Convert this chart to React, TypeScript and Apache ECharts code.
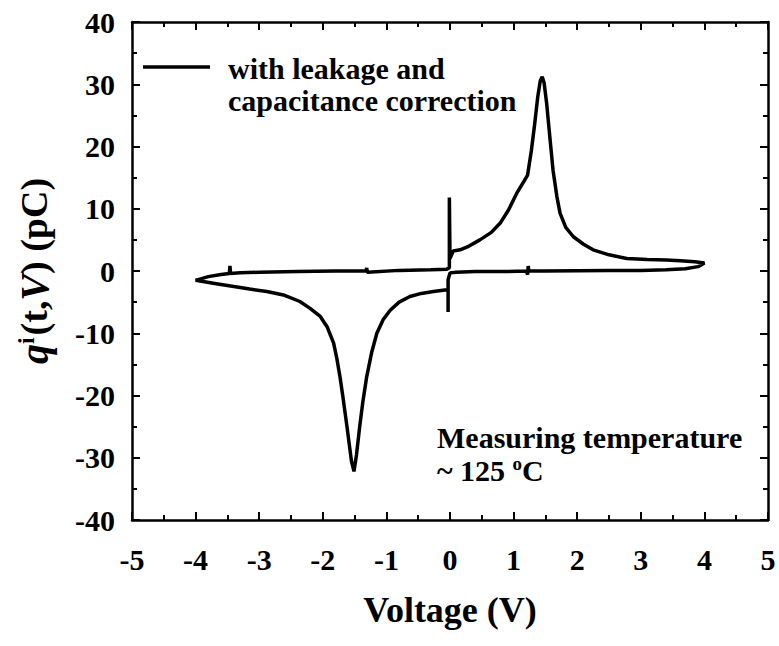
import React, { useEffect, useRef } from "react";
import * as echarts from "echarts";

// Segment A: 0 V -> +4 V (switching peak)
const vUp = [-0.01, -0.01, 0.0, 0.05, 0.16, 0.3, 0.47, 0.65, 0.79, 0.92, 1.05, 1.15, 1.22, 1.28, 1.33, 1.38, 1.42, 1.45, 1.48, 1.52, 1.57, 1.62, 1.68, 1.73, 1.82, 1.94, 2.1, 2.25, 2.5, 2.78, 3.1, 3.4, 3.62, 3.85, 4.0];
const qUp = [0.5, 11.8, 2.0, 3.2, 3.4, 4.0, 5.0, 6.2, 7.7, 9.8, 12.5, 14.2, 15.4, 19.4, 23.5, 28.0, 30.6, 31.2, 30.2, 26.9, 21.5, 16.2, 12.0, 9.3, 7.0, 5.5, 4.3, 3.4, 2.6, 2.0, 1.85, 1.75, 1.65, 1.5, 1.3];
// Segment B: +4 V -> 0 V (flat)
const vBackPos = [4.0, 3.9, 3.7, 3.4, 3.0, 2.5, 2.0, 1.5, 1.24, 1.23, 1.22, 1.2, 0.8, 0.4, 0.1, 0.0];
const qBackPos = [1.3, 0.7, 0.35, 0.2, 0.1, 0.1, 0.05, 0.0, 0.0, 0.8, -0.6, 0.0, -0.1, -0.1, -0.2, -0.3];
// Segment C: 0 V -> -4 V (switching peak)
const vDown = [0.0, -0.03, -0.03, -0.03, -0.08, -0.26, -0.45, -0.63, -0.8, -0.94, -1.05, -1.15, -1.23, -1.31, -1.37, -1.42, -1.47, -1.51, -1.55, -1.62, -1.68, -1.73, -1.78, -1.83, -1.93, -2.04, -2.2, -2.36, -2.6, -2.88, -3.15, -3.4, -3.7, -4.0];
const qDown = [-0.3, -1.4, -6.6, -3.0, -3.05, -3.3, -3.6, -4.1, -5.0, -6.3, -7.8, -10.0, -13.0, -17.0, -21.0, -25.0, -29.5, -32.2, -30.5, -25.0, -20.5, -17.0, -14.0, -11.6, -9.0, -7.3, -6.0, -4.9, -3.9, -3.3, -2.9, -2.5, -2.0, -1.5];
// Segment D: -4 V -> 0 V (flat)
const vBackNeg = [-4.0, -3.8, -3.6, -3.47, -3.46, -3.45, -3.3, -3.0, -2.4, -1.8, -1.32, -1.31, -1.3, -0.8, -0.3, -0.05, 0.0];
const qBackNeg = [-1.5, -0.9, -0.55, -0.4, 0.8, -0.4, -0.3, -0.2, -0.1, 0.0, 0.0, 0.5, -0.2, 0.1, 0.2, 0.3, 0.6];

const xTicks = [-5, -4, -3, -2, -1, 0, 1, 2, 3, 4, 5];
const yTicks = [-40, -30, -20, -10, 0, 10, 20, 30, 40];

const seriesName = "with leakage and capacitance correction";

const FONT = "'Liberation Serif', 'Times New Roman', serif";

function zip(v: number[], q: number[]) {
  return v.map((x, i) => [x, q[i]]);
}

export default function App() {
  const ref = useRef<HTMLDivElement>(null);
  useEffect(() => {
    if (!ref.current) return;
    const chart = echarts.init(ref.current, null, { renderer: "svg" });
    const data = [
      ...zip(vUp, qUp),
      ...zip(vBackPos, qBackPos),
      ...zip(vDown, qDown),
      ...zip(vBackNeg, qBackNeg),
    ];
    const axisLine = { show: true, onZero: false, lineStyle: { color: "#000", width: 2.5 } };
    const tick = { show: true, inside: true, length: 8, lineStyle: { color: "#000", width: 2 } };
    const minor = { show: true, splitNumber: 2, length: 5, lineStyle: { color: "#000", width: 2 } };
    const labelStyle = { color: "#000", fontFamily: FONT, fontWeight: "bold" as const, fontSize: 30 };
    chart.setOption({
      animation: false,
      backgroundColor: "#fff",
      grid: { left: 132, right: 11, top: 22, bottom: 126, containLabel: false },
      xAxis: [
        {
          type: "value",
          position: "bottom",
          min: xTicks[0],
          max: xTicks[xTicks.length - 1],
          interval: 1,
          axisLine,
          axisTick: tick,
          minorTick: minor,
          splitLine: { show: false },
          axisLabel: { ...labelStyle, margin: 24 },
          name: "Voltage (V)",
          nameLocation: "middle",
          nameGap: 72,
          nameTextStyle: { color: "#000", fontFamily: FONT, fontWeight: "bold", fontSize: 36 },
        },
        {
          type: "value",
          position: "top",
          min: xTicks[0],
          max: xTicks[xTicks.length - 1],
          interval: 1,
          axisLine,
          axisTick: tick,
          minorTick: minor,
          splitLine: { show: false },
          axisLabel: { show: false },
        },
      ],
      yAxis: [
        {
          type: "value",
          position: "left",
          min: yTicks[0],
          max: yTicks[yTicks.length - 1],
          interval: 10,
          axisLine,
          axisTick: tick,
          minorTick: minor,
          splitLine: { show: false },
          axisLabel: { ...labelStyle, margin: 17 },
          name: "{it|q}{sup|i}{b|(t,}{it|V}{b|) (pC)}",
          nameLocation: "middle",
          nameRotate: 90,
          nameGap: 78,
          nameTextStyle: {
            color: "#000",
            fontFamily: FONT,
            fontWeight: "bold",
            fontSize: 38,
            rich: {
              it: { fontFamily: FONT, fontWeight: "bold", fontStyle: "italic", fontSize: 40, color: "#000" },
              sup: { fontFamily: FONT, fontWeight: "bold", fontSize: 24, verticalAlign: "top", color: "#000", padding: [0, 2, 0, 0] },
              b: { fontFamily: FONT, fontWeight: "bold", fontSize: 38, color: "#000" },
            },
          },
        },
        {
          type: "value",
          position: "right",
          min: yTicks[0],
          max: yTicks[yTicks.length - 1],
          interval: 10,
          axisLine,
          axisTick: tick,
          minorTick: minor,
          splitLine: { show: false },
          axisLabel: { show: false },
        },
      ],
      series: [
        {
          name: seriesName,
          type: "line",
          xAxisIndex: 0,
          yAxisIndex: 0,
          data,
          showSymbol: false,
          lineStyle: { color: "#000", width: 3.5 },
          itemStyle: { color: "#000" },
        },
      ],
      graphic: [
        {
          type: "line",
          shape: { x1: 143, y1: 67, x2: 210, y2: 67 },
          style: { stroke: "#000", lineWidth: 3.5 },
        },
        {
          type: "text",
          x: 228,
          y: 52,
          style: {
            text: "with leakage and\ncapacitance correction",
            fontFamily: FONT,
            fontWeight: "bold",
            fontSize: 30,
            lineHeight: 32,
            fill: "#000",
          },
        },
        {
          type: "text",
          x: 437,
          y: 421,
          style: {
            text: "Measuring temperature\n{n|~ 125 }{sup|o}{n|C}",
            fontFamily: FONT,
            fontWeight: "bold",
            fontSize: 30,
            lineHeight: 33,
            fill: "#000",
            rich: {
              n: { fontFamily: FONT, fontWeight: "bold", fontSize: 30, lineHeight: 33, fill: "#000" },
              sup: { fontFamily: FONT, fontWeight: "bold", fontSize: 19, verticalAlign: "top", fill: "#000" },
            },
          },
        },
      ],
    });
    return () => chart.dispose();
  }, []);
  return <div ref={ref} style={{ position: "fixed", left: 0, top: 0, width: 779, height: 646 }} />;
}
